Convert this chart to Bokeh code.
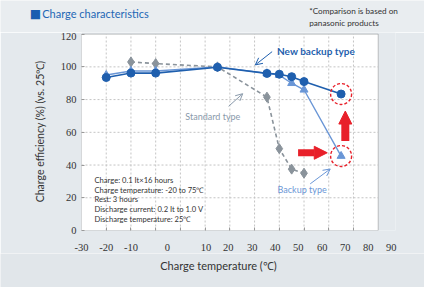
from bokeh.plotting import figure
from bokeh.layouts import column
from bokeh.models import (Range1d, FixedTicker, Label, Arrow, NormalHead, OpenHead,
                          ColumnDataSource, BoxAnnotation)
from bokeh.embed import file_html
from bokeh.resources import INLINE

# ---- data ----
temp_backup = [-20, -10, 0, 25, 45, 50, 55, 60, 75]
new_backup = [93.5, 96.2, 96.2, 99.8, 96.0, 95.5, 94.0, 91.0, 83.4]
backup = [95.0, 97.5, 97.5, 100.0, 96.0, 95.0, 90.0, 86.0, 45.5]
temp_standard = [-10, 0, 25, 45, 50, 55, 60]
standard = [103.0, 102.0, 100.0, 81.5, 50.0, 37.5, 35.0]

x_tick_labels = ["-30", "-20", "-10", "0", "10", "20", "30", "40", "50", "60", "70", "80", "90"]
x_label_pos = [-30, -20, -10, 4.7, 20.4, 29.4, 39.1, 48.4, 57.7, 67.4, 76.7, 86, 95.3]
x_grid = [-20, -10, 0, 10, 20, 30, 40, 50, 60, 70, 80]
x_lim = (-30, 90)
y_lim = (0, 120)
y_ticks = [0, 20, 40, 60, 80, 100, 120]
y_grid = [20, 40, 60, 80, 100]

conditions = [
    "Charge: 0.1 It\u00d716 hours",
    "Charge temperature: -20 to 75\u2103",
    "Rest: 3 hours",
    "Discharge current: 0.2 It to 1.0 V",
    "Discharge temperature: 25\u2103",
]

DARK = "#1f5fae"
LIGHT = "#6a96d6"
GRAY = "#8a939b"
RED = "#e8202a"
TXT = "#333333"
BG = "#e4e9ed"
BG_TOP = "#e9edf0"
BG_BOT = "#e1e6ea"
FONT = "Lato"
NUM = "Liberation Sans Narrow"


def strip(height, bg):
    f = figure(width=424, height=height, x_range=Range1d(0, 424), y_range=Range1d(0, height),
               output_backend="svg", toolbar_location=None,
               min_border_left=0, min_border_right=0, min_border_top=0, min_border_bottom=0)
    f.axis.visible = False
    f.grid.visible = False
    f.outline_line_color = None
    f.background_fill_color = bg
    f.border_fill_color = bg
    if "frame_align" in f.properties():
        f.frame_align = False
    return f


# ---------- header strip ----------
head = strip(32, BG_TOP)
head.add_layout(Label(x=35, y=19, text="\u25a0", text_font="DejaVu Sans", text_font_size="12px",
                      text_color="#1a5cb0", text_align="center", text_baseline="middle"))
head.add_layout(Label(x=41.7, y=18.7, text="Charge characteristics", text_font=FONT,
                      text_font_size="11px", text_color="#2367b5", text_baseline="middle"))
head.add_layout(Label(x=308.7, y=21.3, text="*Comparison is based on", text_font=FONT,
                      text_font_size="8.2px", text_color=TXT, text_baseline="middle"))
head.add_layout(Label(x=308.7, y=9.3, text="panasonic products", text_font=FONT,
                      text_font_size="8.2px", text_color=TXT, text_baseline="middle"))

# ---------- footer strip (x-axis title) ----------
foot = strip(34, BG_BOT)
foot.add_layout(Label(x=218, y=22, text="Charge temperature (\u2103)", text_font=FONT,
                      text_font_size="11px", text_color=TXT, text_align="center",
                      text_baseline="middle"))

# ---------- main chart ----------
p = figure(width=424, height=221, x_range=Range1d(x_lim[0], 97), y_range=Range1d(y_lim[0], 121),
           output_backend="svg", toolbar_location=None,
           min_border_left=81, min_border_right=29, min_border_top=0, min_border_bottom=21)
p.border_fill_color = BG
p.background_fill_color = BG
p.outline_line_color = None

# plot box (white area with dark outline) limited to the axis limits
p.add_layout(BoxAnnotation(left=x_lim[0], right=x_lim[1], bottom=y_lim[0], top=y_lim[1],
                           fill_color="white", fill_alpha=1, line_color="#444444", line_width=1,
                           level="image"))

# x axis: tick marks on grid positions, labels where the original prints them
xa = p.xaxis[0]
xa.ticker = FixedTicker(ticks=x_label_pos, minor_ticks=x_grid)
xa.major_label_overrides = {v: t for v, t in zip(x_label_pos, x_tick_labels)}
xa.major_tick_line_color = None
xa.minor_tick_in = 3
xa.minor_tick_out = 0
xa.minor_tick_line_color = "#999999"
xa.axis_line_color = None
xa.major_label_standoff = 7
xa.major_label_text_font = NUM
xa.major_label_text_font_size = "10.5px"
xa.major_label_text_color = TXT

ya = p.yaxis[0]
ya.ticker = FixedTicker(ticks=y_ticks)
ya.bounds = y_lim
ya.major_tick_in = 3
ya.major_tick_out = 0
ya.major_tick_line_color = "#999999"
ya.minor_tick_line_color = None
ya.axis_line_color = None
ya.major_label_standoff = 5
ya.major_label_text_font = NUM
ya.major_label_text_font_size = "10.5px"
ya.major_label_text_color = TXT
ya.axis_label = "Charge efficiency (%) (vs. 25\u2103)"
ya.axis_label_text_font = FONT
ya.axis_label_text_font_style = "normal"
ya.axis_label_text_font_size = "10.5px"
ya.axis_label_text_color = TXT
ya.axis_label_standoff = 12

# grid lines, limited to the plot box
p.xgrid.grid_line_color = None
p.ygrid.grid_line_color = None
hg = p.segment(x0=[x_lim[0]] * len(y_grid), x1=[x_lim[1]] * len(y_grid), y0=y_grid, y1=y_grid,
               line_color="#c4c4c4", line_dash="2 2", line_width=1)
vg = p.segment(x0=x_grid, x1=x_grid, y0=[y_lim[0]] * len(x_grid), y1=[y_lim[1]] * len(x_grid),
               line_color="#c4c4c4", line_dash="2 2", line_width=1)
hg.level = "underlay"
vg.level = "underlay"

# series
src_b = ColumnDataSource(dict(x=temp_backup, new=new_backup, old=backup))
src_s = ColumnDataSource(dict(x=temp_standard, y=standard))

p.line("x", "y", source=src_s, color=GRAY, line_width=1.6, line_dash="4 3")
p.scatter("x", "y", source=src_s, marker="diamond", size=10, color=GRAY)

p.line("x", "old", source=src_b, color=LIGHT, line_width=1.4)
p.scatter("x", "old", source=src_b, marker="triangle", size=8, color=LIGHT)

p.line("x", "new", source=src_b, color=DARK, line_width=1.6)
p.scatter("x", "new", source=src_b, marker="circle", size=8, color=DARK)

# highlight circles on the 75 deg points
p.scatter([temp_backup[-1], temp_backup[-1]], [new_backup[-1], backup[-1]], marker="circle",
          size=21, fill_color=None, line_color=RED, line_width=1.4, line_dash="3 2")

# red arrows
p.add_layout(Arrow(x_start=76.7, y_start=54.7, x_end=76.7, y_end=73.0, line_color=RED, line_width=8,
                   end=NormalHead(size=13, fill_color=RED, line_color=RED, line_width=1)))
p.add_layout(Arrow(x_start=57.6, y_start=47.5, x_end=69.4, y_end=47.5, line_color=RED, line_width=7,
                   end=NormalHead(size=13, fill_color=RED, line_color=RED, line_width=1)))

# thin pointer arrows
p.add_layout(Arrow(x_start=47.1, y_start=109.3, x_end=40.3, y_end=101.2, line_color=DARK, line_width=1,
                   end=OpenHead(size=7, line_color=DARK, line_width=1)))
p.add_layout(Arrow(x_start=29.5, y_start=75.9, x_end=35.2, y_end=83.6, line_color="#8a9aab", line_width=1,
                   end=OpenHead(size=7, line_color="#8a9aab", line_width=1)))
p.add_layout(Arrow(x_start=62.5, y_start=28.5, x_end=70.6, y_end=37.6, line_color=LIGHT, line_width=1,
                   end=OpenHead(size=7, line_color=LIGHT, line_width=1)))

# series labels
p.add_layout(Label(x=49.1, y=109.9, text="New backup type", text_font=FONT, text_font_size="10px",
                   text_font_style="bold", text_color=DARK, text_baseline="middle"))
p.add_layout(Label(x=12.0, y=69.5, text="Standard type", text_font=FONT, text_font_size="9px",
                   text_color="#8a9aab", text_baseline="middle"))
p.add_layout(Label(x=49.3, y=24.8, text="Backup type", text_font=FONT, text_font_size="9px",
                   text_color=LIGHT, text_baseline="middle"))

# test conditions
for i, line in enumerate(conditions):
    p.add_layout(Label(x=-24.75, y=30.6 - i * 5.82, text=line, text_font=FONT, text_font_size="7.6px",
                       text_color=TXT, text_baseline="middle"))

layout = column(head, p, foot, spacing=0)
open("out.html", "w").write(file_html(layout, INLINE))
